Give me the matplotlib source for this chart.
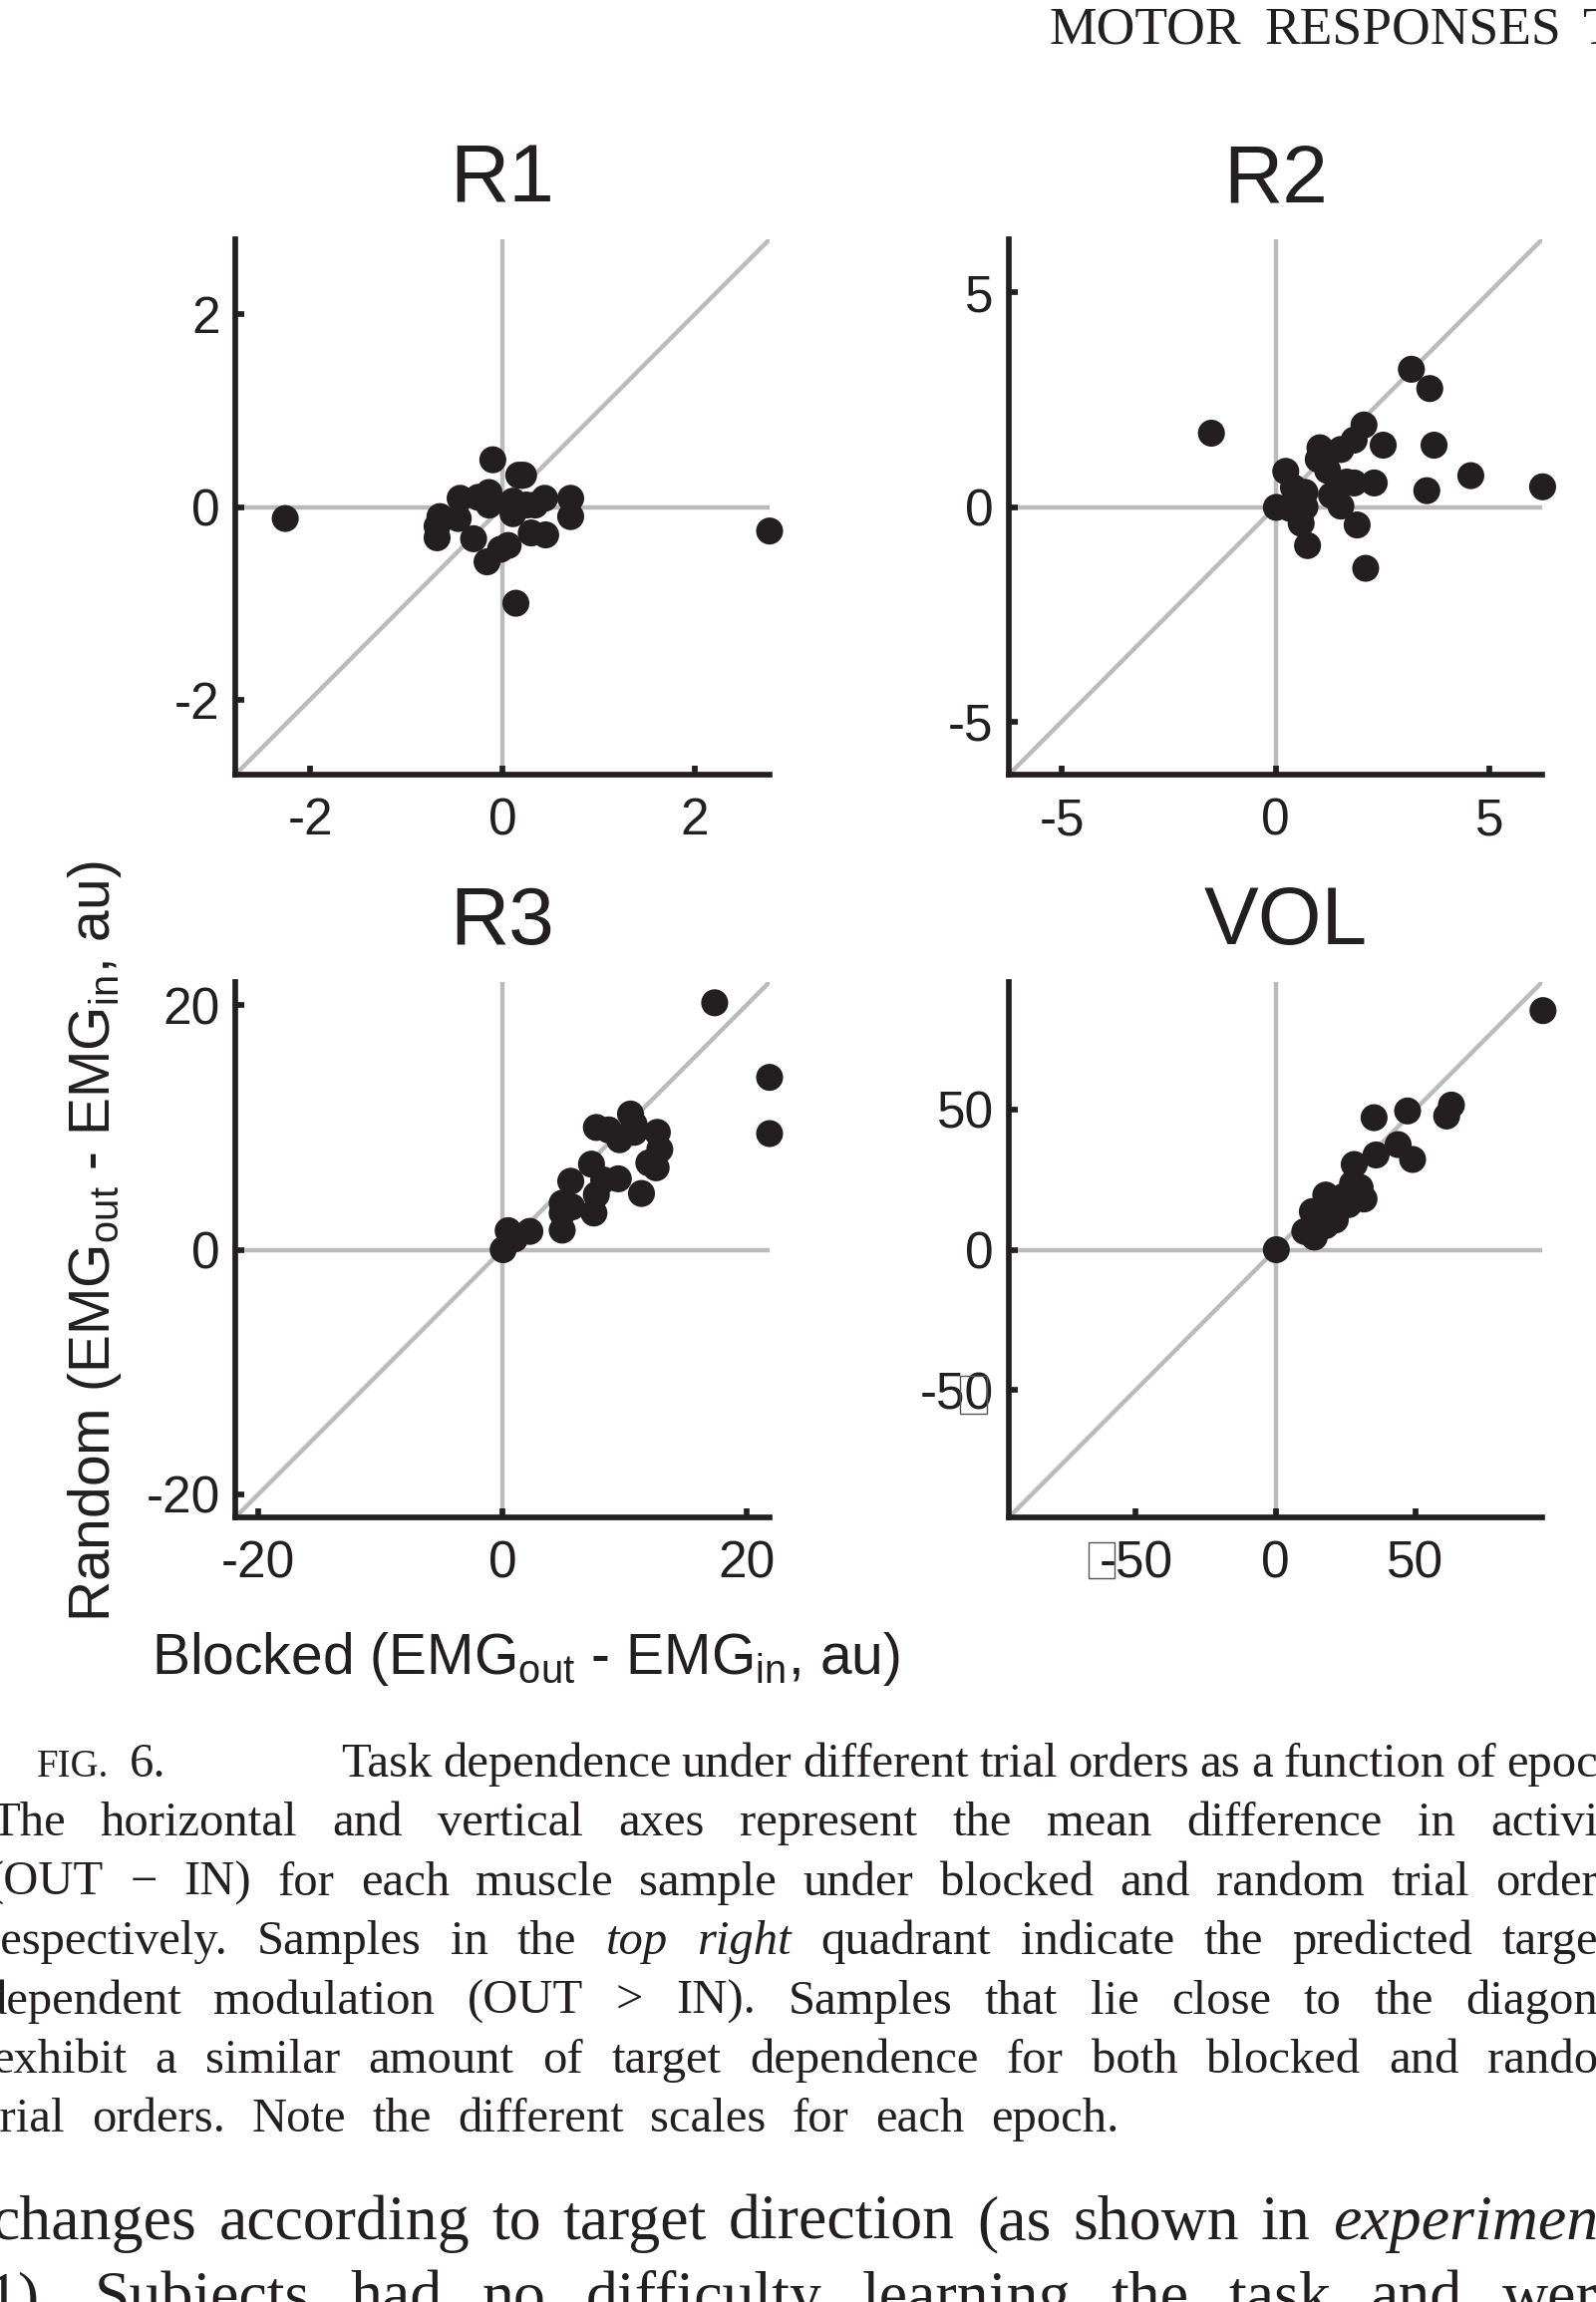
import matplotlib
matplotlib.use("Agg")
import matplotlib.pyplot as plt
from matplotlib.patches import Rectangle

# figure is laid out in reference pixels (1601 x 2309 @ 100 dpi)
W, H, DPI = 1601, 2309, 100
INK = "#231f20"
GUIDE = "#babbbd"

# ---- data: blocked (x) vs random (y), EMG_out - EMG_in, au ----
r1_blocked = [-2.26, 2.78, -0.10, 0.17, 0.22, -0.44, -0.65, -0.68, -0.68, -0.46, -0.25,
              -0.14, -0.14, 0.11, 0.11, 0.25, 0.34, 0.44, 0.71, 0.71, 0.30, 0.45,
              -0.30, -0.02, 0.06, -0.16, 0.14]
r1_random = [-0.12, -0.25, 0.49, 0.33, 0.33, 0.09, -0.10, -0.20, -0.32, -0.12, 0.10,
             0.15, 0.02, 0.06, -0.07, 0.02, 0.02, 0.09, 0.09, -0.10, -0.27, -0.29,
             -0.33, -0.44, -0.40, -0.57, -1.00]

r2_blocked = [-1.50, 3.18, 3.61, 2.07, 1.84, 1.53, 1.04, 1.00, 1.22, 2.52, 3.71, 0.24,
              0.42, 0.69, 1.67, 1.84, 2.31, 3.54, 4.57, 6.25, 1.31, 1.53, 0.02, 0.33,
              0.69, 0.60, 1.91, 0.75, 2.11]
r2_random = [1.72, 3.21, 2.76, 1.91, 1.56, 1.34, 1.38, 1.11, 0.85, 1.44, 1.44, 0.83,
             0.45, 0.34, 0.58, 0.56, 0.56, 0.38, 0.73, 0.47, 0.27, 0.02, -0.01, -0.03,
             0.00, -0.38, -0.42, -0.90, -1.43]

r3_blocked = [17.4, 21.9, 21.9, 0.06, 0.47, 1.0, 2.25, 4.9, 4.9, 4.9, 5.7, 5.6, 7.5,
              7.7, 7.3, 8.3, 9.5, 11.4, 7.7, 8.7, 9.6, 10.5, 10.8, 10.8, 12.7, 12.9,
              12.0, 12.6]
r3_random = [20.2, 14.1, 9.5, 0.0, 1.56, 0.88, 1.5, 1.6, 3.8, 3.0, 3.5, 5.6, 3.0,
             4.5, 7.0, 5.7, 5.8, 4.6, 10.0, 9.8, 9.0, 11.1, 10.25, 9.6, 9.6, 8.2,
             7.1, 6.7]

vol_blocked = [95.8, 0.3, 35.3, 47.3, 63.0, 61.3, 43.9, 49.1, 36.0, 28.2, 30.3, 31.7,
               26.2, 21.4, 18.0, 13.2, 10.5, 13.9, 18.0, 20.7, 24.1, 27.6, 16.0, 18.7,
               22.8]
vol_random = [85.3, 0.0, 47.1, 49.5, 51.6, 47.7, 37.5, 32.2, 33.8, 30.4, 22.2, 18.1,
              16.1, 10.6, 19.5, 13.6, 6.5, 4.5, 8.6, 17.5, 18.8, 23.6, 12.0, 14.7,
              14.7]

titles = ["R1", "R2", "R3", "VOL"]
limits = [2.78, 6.24, 21.9, 95.5]
ticks = [[-2, 0, 2], [-5, 0, 5], [-20, 0, 20], [-50, 0, 50]]

header = "MOTOR RESPONSES T"
caption_lead = ["FIG.", "6."]
caption_lines = [
    "Task dependence under different trial orders as a function of epoc",
    "The horizontal and vertical axes represent the mean difference in activi",
    "(OUT \u2212 IN) for each muscle sample under blocked and random trial order",
    "respectively. Samples in the *top* *right* quadrant indicate the predicted targe",
    "dependent modulation (OUT > IN). Samples that lie close to the diagon",
    "exhibit a similar amount of target dependence for both blocked and rando",
    "trial orders. Note the different scales for each epoch.",
]
body_lines = [
    "changes according to target direction (as shown in *experimen*",
    "1). Subjects had no difficulty learning the task and wer",
]

plt.rcParams["font.family"] = ["Liberation Sans", "DejaVu Sans"]
plt.rcParams["mathtext.fontset"] = "custom"
plt.rcParams["mathtext.rm"] = "Liberation Sans"
plt.rcParams["mathtext.it"] = "Liberation Sans:italic"
plt.rcParams["axes.unicode_minus"] = False

fig = plt.figure(figsize=(W / DPI, H / DPI), dpi=DPI)


def box(x0, y0, x1, y1):
    return [x0 / W, 1 - y1 / H, (x1 - x0) / W, (y1 - y0) / H]


rects = [box(236, 240, 772, 777), box(1012, 240, 1547, 777),
         box(236, 985, 772, 1522), box(1012, 985, 1547, 1522)]
data = [(r1_blocked, r1_random), (r2_blocked, r2_random),
        (r3_blocked, r3_random), (vol_blocked, vol_random)]
title_x = [0.5, 0.5, 0.5, 0.52]

axes = []
for name, rect, (bx, ry), lim, tk, tx in zip(titles, rects, data, limits, ticks, title_x):
    ax = fig.add_axes(rect)
    ax.set_xlim(-lim, lim)
    ax.set_ylim(-lim, lim)
    kw = dict(color=GUIDE, lw=3.2, zorder=1, solid_capstyle="butt")
    ax.plot([-lim, lim], [0, 0], **kw)
    ax.plot([0, 0], [-lim, lim], **kw)
    ax.plot([-lim, lim], [-lim, lim], **kw)
    ax.scatter(bx, ry, s=19.5 ** 2, color=INK, edgecolors="none", zorder=3, clip_on=False)
    for side in ("top", "right"):
        ax.spines[side].set_visible(False)
    for side in ("left", "bottom"):
        ax.spines[side].set_linewidth(4.1)
        ax.spines[side].set_color(INK)
        ax.spines[side].set_capstyle("projecting")
    ax.set_xticks(tk)
    ax.set_yticks(tk)
    ax.tick_params(direction="in", length=6.5, width=4.1, color=INK,
                   labelsize=37, labelcolor=INK)
    ax.tick_params(axis="x", pad=16)
    ax.tick_params(axis="y", pad=11)
    ax.set_title(name, fontsize=59, pad=27, color=INK, x=tx)
    axes.append(ax)

ylab = "Random (EMG$_{\\mathrm{out}}$ - EMG$_{\\mathrm{in}}$, au)"
xlab = "Blocked (EMG$_{\\mathrm{out}}$ - EMG$_{\\mathrm{in}}$, au)"
fig.text(95 / W, 1 - 1245 / H, ylab, rotation=90, fontsize=41, color=INK,
         ha="center", va="center")
fig.text(527 / W, 1 - 1664 / H, xlab, fontsize=41, color=INK, ha="center", va="center")

renderer = fig.canvas.get_renderer()


def put_line(text, x0, x1, y, size, justify=True, family="Liberation Serif"):
    arts = []
    for w in text.split():
        style = "normal"
        if w.startswith("*") and w.endswith("*"):
            w, style = w.strip("*"), "italic"
        arts.append(fig.text(0, 1 - y / H, w, fontsize=size, family=family,
                             style=style, color=INK, va="baseline", ha="left"))
    widths = [t.get_window_extent(renderer=renderer).width for t in arts]
    em = size * DPI / 72
    gap = 0.25 * em
    if justify and len(arts) > 1:
        gap = max((x1 - x0 - sum(widths)) / (len(arts) - 1), 0.15 * em)
    x = x0
    for t, w in zip(arts, widths):
        t.set_x(x / W)
        x += w + gap


# running head
put_line(header, 1053, 1621, 44, 38.5)

# caption
CAP, LEAD, BASE = 35, 59.4, 1782
fig.text(37 / W, 1 - BASE / H, caption_lead[0], fontsize=CAP * 0.8,
         family="Liberation Serif", color=INK, va="baseline")
fig.text(130 / W, 1 - BASE / H, caption_lead[1], fontsize=CAP,
         family="Liberation Serif", color=INK, va="baseline")
starts = [342, -10, -12, -16, -18, -8, -13]
ends = [1603, 1603, 1603, 1603, 1603, 1603, 1122]
for i, (line, x0, x1) in enumerate(zip(caption_lines, starts, ends)):
    put_line(line, x0, x1, BASE + i * LEAD, CAP)

# body text
for i, (line, x0) in enumerate(zip(body_lines, [-8, -14])):
    put_line(line, x0, 1603, 2246 + i * 76, 46)

# the print has a missing-glyph box on the VOL "-50" labels
fig.canvas.draw()
vol = axes[3]
bb = vol.get_xticklabels()[0].get_window_extent(renderer=renderer)
em = 37 * DPI / 72
right = bb.x0 + 0.30 * em
fig.patches.append(Rectangle((right - 0.50 * em, bb.y0 + 0.2 * em), 0.50 * em, 0.70 * em,
                             transform=None, fill=False, ec="#555555", lw=1.0))
bb = vol.get_yticklabels()[0].get_window_extent(renderer=renderer)
fig.patches.append(Rectangle((bb.x0 + 0.55 * bb.width, bb.y0 + 0.12 * bb.height),
                             0.36 * bb.width, 0.78 * bb.height,
                             transform=None, fill=False, ec="#555555", lw=1.0))

fig.savefig("out.png", dpi=DPI)
